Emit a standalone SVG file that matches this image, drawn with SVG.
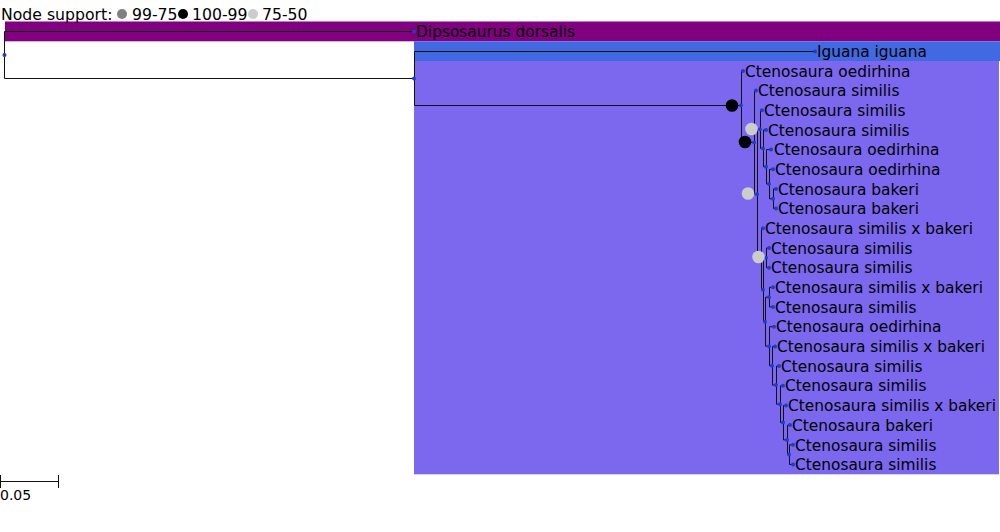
<svg xmlns="http://www.w3.org/2000/svg" width="1000" height="532" viewBox="0 0 1000 532">
<style>
text{font-family:"DejaVu Sans",Verdana,sans-serif;fill:#000}
.lbl{font-size:15.4px}
.leg{font-size:15.7px}
.br{fill:none;stroke:#111;stroke-width:1}
.nd{fill:#1f3ccc}
.s1{fill:#000}
.s2{fill:#808080}
.s3{fill:#cccccc}
</style>
<rect width="1000" height="532" fill="#fff"/>
<g id="bands">
<rect x="5" y="21.5" width="995" height="19.8" fill="#800080"/>
<rect x="414" y="41.3" width="586" height="19.7" fill="#4169e1"/>
<rect x="414" y="61" width="585" height="413.3" fill="#7b68ee"/>
</g>
<g id="legend">
<text class="leg" x="1" y="19.5">Node support:</text>
<circle class="s2" cx="122" cy="14" r="5"/>
<text class="leg" x="132" y="19.5">99-75</text>
<circle class="s1" cx="183" cy="14" r="5"/>
<text class="leg" x="192" y="19.5">100-99</text>
<circle class="s3" cx="253" cy="14" r="5"/>
<text class="leg" x="262" y="19.5">75-50</text>
</g>
<g id="connectors">
<path class="br" d="M414 31.5 H4.5 V78.5 H414"/>
<path class="br" d="M815 51.5 H414.5 V105.5 H741"/>
<path class="br" d="M743 70.9 H741.5 V142.4 H754"/>
<path class="br" d="M756 90.5 H754.5 V194.2 H757"/>
<path class="br" d="M760 129.3 H757.5 V259 H761"/>
<path class="br" d="M762 110.2 H760.5 V148.4 H763"/>
<path class="br" d="M766 129.9 H763.5 V166.8 H766"/>
<path class="br" d="M771 149.6 H766.5 V184 H769"/>
<path class="br" d="M773 169.3 H769.5 V198.8 H773"/>
<path class="br" d="M776 188.9 H773.5 V208.6 H776"/>
<path class="br" d="M763 228.3 H761.5 V289.8 H763"/>
<path class="br" d="M766 257.8 H763.5 V321.7 H765"/>
<path class="br" d="M769 248 H766.5 V267.7 H769"/>
<path class="br" d="M769 297.2 H765.5 V346.2 H769"/>
<path class="br" d="M773 287.3 H769.5 V307 H773"/>
<path class="br" d="M774 326.7 H769.5 V365.8 H772"/>
<path class="br" d="M775 346.4 H772.5 V385.1 H776"/>
<path class="br" d="M779 366.1 H776.5 V404.2 H780"/>
<path class="br" d="M783 385.7 H780.5 V422.6 H783"/>
<path class="br" d="M786 405.4 H783.5 V439.9 H787"/>
<path class="br" d="M790 425.1 H787.5 V454.6 H789"/>
<path class="br" d="M793 444.8 H789.5 V464.5 H793"/>
</g>
<g id="nodes">
<circle class="nd" cx="4.5" cy="55" r="2"/>
<circle class="nd" cx="414" cy="78.5" r="2"/>
<circle class="nd" cx="741" cy="105.5" r="2"/>
<circle class="nd" cx="754" cy="142.4" r="2"/>
<circle class="nd" cx="757" cy="194.2" r="2"/>
<circle class="nd" cx="760" cy="129.3" r="2"/>
<circle class="nd" cx="763" cy="148.4" r="2"/>
<circle class="nd" cx="766" cy="166.8" r="2"/>
<circle class="nd" cx="769" cy="184" r="2"/>
<circle class="nd" cx="773" cy="198.8" r="2"/>
<circle class="nd" cx="761" cy="259" r="2"/>
<circle class="nd" cx="763" cy="289.8" r="2"/>
<circle class="nd" cx="766" cy="257.8" r="2"/>
<circle class="nd" cx="765" cy="321.7" r="2"/>
<circle class="nd" cx="769" cy="297.2" r="2"/>
<circle class="nd" cx="769" cy="346.2" r="2"/>
<circle class="nd" cx="772" cy="365.8" r="2"/>
<circle class="nd" cx="776" cy="385.1" r="2"/>
<circle class="nd" cx="780" cy="404.2" r="2"/>
<circle class="nd" cx="783" cy="422.6" r="2"/>
<circle class="nd" cx="787" cy="439.9" r="2"/>
<circle class="nd" cx="789" cy="454.6" r="2"/>
<circle class="s1" cx="732" cy="105.5" r="6.3"/>
<circle class="s1" cx="745" cy="142" r="6.3"/>
<circle class="s3" cx="748" cy="193.5" r="6.3"/>
<circle class="s3" cx="751.5" cy="129" r="6.3"/>
<circle class="s3" cx="758.5" cy="257" r="6.3"/>
</g>
<g id="leaves">
<g id="leaf-dipsosaurus"><circle class="nd" cx="414" cy="31.5" r="2"/><text class="lbl" x="416" y="37.2">Dipsosaurus dorsalis</text></g>
<g id="leaf-iguana"><circle class="nd" cx="815" cy="51.5" r="2"/><text class="lbl" x="817" y="57">Iguana iguana</text></g>
<g id="leaf1"><circle class="nd" cx="743" cy="70.9" r="2"/><text class="lbl" x="745" y="76.6">Ctenosaura oedirhina</text></g>
<g id="leaf2"><circle class="nd" cx="756" cy="90.5" r="2"/><text class="lbl" x="758" y="96.2">Ctenosaura similis</text></g>
<g id="leaf3"><circle class="nd" cx="762" cy="110.2" r="2"/><text class="lbl" x="764" y="115.9">Ctenosaura similis</text></g>
<g id="leaf4"><circle class="nd" cx="766" cy="129.9" r="2"/><text class="lbl" x="768" y="135.6">Ctenosaura similis</text></g>
<g id="leaf5"><circle class="nd" cx="771" cy="149.6" r="2"/><text class="lbl" x="774" y="155.3">Ctenosaura oedirhina</text></g>
<g id="leaf6"><circle class="nd" cx="773" cy="169.3" r="2"/><text class="lbl" x="775" y="175">Ctenosaura oedirhina</text></g>
<g id="leaf7"><circle class="nd" cx="776" cy="188.9" r="2"/><text class="lbl" x="778" y="194.6">Ctenosaura bakeri</text></g>
<g id="leaf8"><circle class="nd" cx="776" cy="208.6" r="2"/><text class="lbl" x="778" y="214.3">Ctenosaura bakeri</text></g>
<g id="leaf9"><circle class="nd" cx="763" cy="228.3" r="2"/><text class="lbl" x="765" y="234">Ctenosaura similis x bakeri</text></g>
<g id="leaf10"><circle class="nd" cx="769" cy="248" r="2"/><text class="lbl" x="771" y="253.7">Ctenosaura similis</text></g>
<g id="leaf11"><circle class="nd" cx="769" cy="267.7" r="2"/><text class="lbl" x="771" y="273.4">Ctenosaura similis</text></g>
<g id="leaf12"><circle class="nd" cx="773" cy="287.3" r="2"/><text class="lbl" x="775" y="293">Ctenosaura similis x bakeri</text></g>
<g id="leaf13"><circle class="nd" cx="773" cy="307" r="2"/><text class="lbl" x="775" y="312.7">Ctenosaura similis</text></g>
<g id="leaf14"><circle class="nd" cx="774" cy="326.7" r="2"/><text class="lbl" x="776" y="332.4">Ctenosaura oedirhina</text></g>
<g id="leaf15"><circle class="nd" cx="775" cy="346.4" r="2"/><text class="lbl" x="777" y="352.1">Ctenosaura similis x bakeri</text></g>
<g id="leaf16"><circle class="nd" cx="779" cy="366.1" r="2"/><text class="lbl" x="781" y="371.8">Ctenosaura similis</text></g>
<g id="leaf17"><circle class="nd" cx="783" cy="385.7" r="2"/><text class="lbl" x="785" y="391.4">Ctenosaura similis</text></g>
<g id="leaf18"><circle class="nd" cx="786" cy="405.4" r="2"/><text class="lbl" x="788" y="411.1">Ctenosaura similis x bakeri</text></g>
<g id="leaf19"><circle class="nd" cx="790" cy="425.1" r="2"/><text class="lbl" x="792" y="430.8">Ctenosaura bakeri</text></g>
<g id="leaf20"><circle class="nd" cx="793" cy="444.8" r="2"/><text class="lbl" x="795" y="450.5">Ctenosaura similis</text></g>
<g id="leaf21"><circle class="nd" cx="793" cy="464.5" r="2"/><text class="lbl" x="795" y="470.2">Ctenosaura similis</text></g>
</g>
<g id="scale">
<path class="br" d="M0.5 481.5 H58.5 M0.5 475 V488 M58.5 475 V488"/>
<text x="0" y="500" style="font-size:14px">0.05</text>
</g>
</svg>
